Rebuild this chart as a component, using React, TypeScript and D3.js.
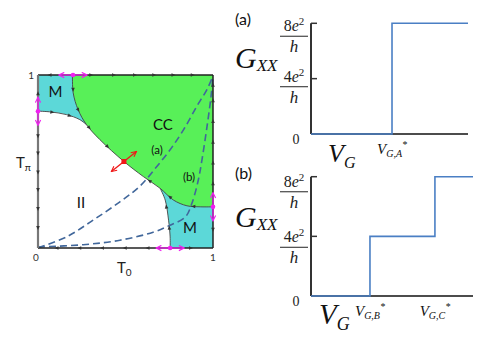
import React from "react";
import * as d3 from "d3";

type Pt = [number, number];

// phase diagram (T0, Tpi)
const greenEdge: Pt[] = [[0.197, 1], [0.201, 0.897], [0.229, 0.8], [0.277, 0.713], [0.354, 0.626], [0.491, 0.5], [0.602, 0.413], [0.698, 0.345], [0.774, 0.277], [0.851, 0.244], [0.927, 0.238], [1, 0.238]];
const cyanTopEdge: Pt[] = [[0, 0.791], [0.067, 0.787], [0.163, 0.771], [0.239, 0.742], [0.277, 0.713]];
const cyanBottomEdge: Pt[] = [[0.755, 0], [0.755, 0.064], [0.746, 0.161], [0.727, 0.277], [0.698, 0.345]];
const curveA: Pt[] = [[0, 0.002], [0.163, 0.064], [0.315, 0.161], [0.468, 0.267], [0.583, 0.358], [0.679, 0.471], [0.755, 0.568], [0.832, 0.684], [0.908, 0.82], [0.966, 0.917], [1, 0.994]];
const curveB: Pt[] = [[0, 0.006], [0.258, 0.019], [0.468, 0.045], [0.658, 0.091], [0.755, 0.132], [0.841, 0.178], [0.88, 0.26], [0.916, 0.393], [0.937, 0.51], [0.966, 0.703], [0.989, 0.878], [1, 0.994]];
const fixedPoints: Pt[] = [[0.2, 1], [0, 0.79], [1, 0.238], [0.755, 0]];
const criticalPoint: Pt = [0.491, 0.5];
const regionLabels = [
  { text: "M", at: [0.1, 0.87] as Pt },
  { text: "CC", at: [0.714, 0.68] as Pt },
  { text: "II", at: [0.246, 0.231] as Pt },
  { text: "M", at: [0.869, 0.087] as Pt },
];
const curveLabels = [
  { text: "(a)", at: [0.68, 0.543] as Pt },
  { text: "(b)", at: [0.863, 0.387] as Pt },
];

// conductance panels (units of e^2/h)
const gTicks = [0, 4, 8];
const stepA = { vg: [0, 0.516, 1], g: [0, 8, 8] };
const stepB = { vg: [0, 0.364, 0.765, 1], g: [0, 4, 8, 8] };
const critA = [{ v: 0.516, name: "G,A" }];
const critB = [{ v: 0.364, name: "G,B" }, { v: 0.765, name: "G,C" }];

const SANS = "Lato, 'Open Sans', sans-serif";
const SERIF = "'Liberation Serif', 'DejaVu Serif', serif";

const xP = d3.scaleLinear().domain([0, 1]).range([38, 213]);
const yP = d3.scaleLinear().domain([0, 1]).range([248, 75]);
const toPx = (p: Pt): Pt => [xP(p[0]), yP(p[1])];

const smooth = d3.line<Pt>().x(d => xP(d[0])).y(d => yP(d[1])).curve(d3.curveCatmullRom);
const straight = d3.line<Pt>().x(d => xP(d[0])).y(d => yP(d[1]));

function along(pts: Pt[], fr: number) {
  const px = pts.map(toPx);
  const segs: number[] = [];
  let total = 0;
  for (let i = 1; i < px.length; i++) {
    const l = Math.hypot(px[i][0] - px[i - 1][0], px[i][1] - px[i - 1][1]);
    segs.push(l);
    total += l;
  }
  let target = fr * total;
  for (let i = 0; i < segs.length; i++) {
    if (target <= segs[i] || i === segs.length - 1) {
      const t = Math.min(1, target / segs[i]);
      const a = px[i], b = px[i + 1];
      return {
        x: a[0] + (b[0] - a[0]) * t,
        y: a[1] + (b[1] - a[1]) * t,
        a: (Math.atan2(b[1] - a[1], b[0] - a[0]) * 180) / Math.PI,
      };
    }
    target -= segs[i];
  }
  return { x: px[0][0], y: px[0][1], a: 0 };
}

const Head = ({ x, y, a }: { x: number; y: number; a: number }) => (
  <path d="M-3,-1.8 L1,0 L-3,1.8Z" fill="#333" transform={`translate(${x},${y}) rotate(${a})`} />
);

function PhaseDiagram() {
  const heads: { x: number; y: number; a: number }[] = [];
  // edges: flow away from the fixed points
  [0.06, 0.31, 0.44, 0.56, 0.67, 0.78, 0.89].forEach(t => heads.push({ x: xP(t), y: yP(1), a: t < 0.2 ? 180 : 0 }));
  [0.11, 0.22, 0.33, 0.43, 0.54, 0.64, 0.9].forEach(t => heads.push({ x: xP(0), y: yP(t), a: t < 0.79 ? 90 : -90 }));
  [0.1, 0.23, 0.36, 0.49, 0.62, 0.88].forEach(t => heads.push({ x: xP(t), y: yP(0), a: t < 0.755 ? 180 : 0 }));
  [0.1, 0.38, 0.5, 0.62, 0.74, 0.86, 0.95].forEach(t => heads.push({ x: xP(1), y: yP(t), a: t < 0.238 ? 90 : -90 }));
  // separatrix: flow towards the critical point
  const upper = greenEdge.slice(0, 6);
  const lower = greenEdge.slice(5).reverse();
  [0.15, 0.35, 0.55, 0.8].forEach(f => heads.push(along(upper, f)));
  [0.2, 0.45, 0.7].forEach(f => heads.push(along(lower, f)));
  [0.3, 0.65].forEach(f => heads.push(along(cyanTopEdge, f)));
  [0.35, 0.7].forEach(f => heads.push(along(cyanBottomEdge, f)));

  const greenArea = smooth(greenEdge) + `L${xP(1)},${yP(1)}Z`;
  const cyanTL = straight([[0, 1], [0.26, 1], [0.277, 0.713]]) + smooth(cyanTopEdge.slice().reverse())!.replace("M", "L") + "Z";
  const cyanBR = smooth(cyanBottomEdge) + `L${xP(1)},${yP(0.36)}L${xP(1)},${yP(0)}Z`;
  const [cx, cy] = toPx(criticalPoint);

  return (
    <g>
      <path d={cyanTL} fill="#5cd8d8" />
      <path d={cyanBR} fill="#5cd8d8" />
      <path d={greenArea} fill="#58f058" />
      <path d={smooth(greenEdge)!} fill="none" stroke="#444" strokeWidth={0.9} />
      <path d={smooth(cyanTopEdge)!} fill="none" stroke="#444" strokeWidth={0.9} />
      <path d={smooth(cyanBottomEdge)!} fill="none" stroke="#444" strokeWidth={0.9} />
      <path d={smooth(curveA)!} fill="none" stroke="#41679b" strokeWidth={1.6} strokeDasharray="7,4" />
      <path d={smooth(curveB)!} fill="none" stroke="#41679b" strokeWidth={1.6} strokeDasharray="7,4" />
      <line x1={xP(0)} x2={xP(1)} y1={yP(1)} y2={yP(1)} stroke="#222" strokeWidth={1.5} />
      <line x1={xP(1)} x2={xP(1)} y1={yP(1)} y2={yP(0)} stroke="#222" strokeWidth={1.5} />
      <line x1={xP(0)} x2={xP(1)} y1={yP(0)} y2={yP(0)} stroke="#222" strokeWidth={1.5} />
      <line x1={xP(0)} x2={xP(0)} y1={yP(1)} y2={yP(0)} stroke="#777" strokeWidth={2.2} />
      {heads.map((h, i) => <Head key={i} {...h} />)}
      {fixedPoints.map((p, i) => {
        const [x, y] = toPx(p);
        const horiz = p[1] === 1 || p[1] === 0;
        const d = 14;
        return (
          <g key={i}>
            <line x1={horiz ? x - d : x} x2={horiz ? x + d : x} y1={horiz ? y : y - d} y2={horiz ? y : y + d}
              stroke="#f020f0" strokeWidth={1.3} markerStart="url(#mag)" markerEnd="url(#mag)" />
            <circle cx={x} cy={y} r={2.3} fill="#f020f0" />
          </g>
        );
      })}
      <line x1={cx - 12.5} y1={cy + 10} x2={cx + 12.5} y2={cy - 10} stroke="#f01818" strokeWidth={1.3}
        markerStart="url(#red)" markerEnd="url(#red)" />
      <rect x={cx - 2.5} y={cy - 2.5} width={5} height={5} fill="#f01818" />
      {regionLabels.map((l, i) => (
        <text key={i} x={xP(l.at[0])} y={yP(l.at[1])} fontFamily={SANS} fontSize={15} textAnchor="middle" fill="#111">{l.text}</text>
      ))}
      {curveLabels.map((l, i) => (
        <text key={i} x={xP(l.at[0])} y={yP(l.at[1])} fontFamily={SANS} fontSize={11.5} textAnchor="middle" fill="#111">{l.text}</text>
      ))}
      <text x={xP(0) - 4} y={yP(1) + 4} fontFamily={SANS} fontSize={10} textAnchor="end" fill="#333">1</text>
      <text x={xP(0) - 2} y={yP(0) + 13} fontFamily={SANS} fontSize={10} textAnchor="middle" fill="#333">0</text>
      <text x={xP(1)} y={yP(0) + 13} fontFamily={SANS} fontSize={10} textAnchor="middle" fill="#333">1</text>
      <text x={117} y={273} fontFamily={SANS} fontSize={15} fill="#222">T<tspan fontSize={10} dy={3}>0</tspan></text>
      <text x={16} y={168} fontFamily={SANS} fontSize={15} fill="#222">T<tspan fontSize={10} dy={3}>π</tspan></text>
    </g>
  );
}

function Fraction({ x, y, num }: { x: number; y: number; num: string }) {
  return (
    <g fontFamily={SERIF} fill="#222">
      <text x={x} y={y - 5} fontSize={16} textAnchor="middle">{num}<tspan fontStyle="italic">e</tspan><tspan fontSize={11} dy={-6}>2</tspan></text>
      <line x1={x - 14} x2={x + 14} y1={y} y2={y} stroke="#555" strokeWidth={1.3} />
      <text x={x} y={y + 16} fontSize={17} fontStyle="italic" textAnchor="middle">h</text>
    </g>
  );
}

function StepPanel({ label, top, bottom, right, step, crit, vgSize, vgX, vgY, gY, fracOff }: any) {
  const x = d3.scaleLinear().domain([0, 1]).range([311, right]);
  const y = d3.scaleLinear().domain([0, 8]).range([bottom, top]);
  const pts: Pt[] = step.vg.map((v: number, i: number) => [v, step.g[i]]);
  const line = d3.line<Pt>().x(d => x(d[0])).y(d => y(d[1])).curve(d3.curveStepAfter);
  return (
    <g>
      <text x={235} y={top + 2} fontFamily={SANS} fontSize={16} fill="#111">{label}</text>
      <line x1={x(0)} x2={x(0)} y1={y(8)} y2={y(0)} stroke="#333" strokeWidth={2} />
      <line x1={x(0)} x2={x(1)} y1={y(0)} y2={y(0)} stroke="#111" strokeWidth={1.6} />
      {gTicks.filter(t => t > 0).map(t => (
        <line key={t} x1={x(0)} x2={x(0) + 6} y1={y(t)} y2={y(t)} stroke="#333" strokeWidth={1.5} />
      ))}
      <path d={line(pts)!} fill="none" stroke="#4a7fc4" strokeWidth={1.6} />
      {gTicks.map(t =>
        t === 0 ? (
          <text key={t} x={296} y={y(0) + 10} fontFamily={SERIF} fontSize={14} textAnchor="middle" fill="#222">0</text>
        ) : (
          <Fraction key={t} x={294} y={y(t) + fracOff[t]} num={String(t)} />
        )
      )}
      <text x={235} y={gY} fontFamily={SERIF} fontStyle="italic" fontSize={30} fill="#111">G<tspan fontSize={17} dy={3}>XX</tspan></text>
      <text x={vgX} y={vgY} fontFamily={SERIF} fontStyle="italic" fontSize={vgSize} fill="#111">V<tspan fontSize={vgSize * 0.62} dy={vgSize * 0.22}>G</tspan></text>
      {crit.map((c: any, i: number) => (
        <text key={i} x={x(c.v)} y={y(0) + 20} fontFamily={SERIF} fontStyle="italic" fontSize={15} textAnchor="middle" fill="#111">
          V<tspan fontSize={10} dy={3}>{c.name}</tspan><tspan fontSize={10} dy={-9}>*</tspan>
        </text>
      ))}
    </g>
  );
}

export default function App() {
  return (
    <svg width={485} height={339} style={{ position: "absolute", left: 0, top: 0, background: "#fff" }}>
      <defs>
        <marker id="mag" viewBox="0 0 8 8" refX={7} refY={4} markerWidth={7} markerHeight={7} orient="auto-start-reverse" markerUnits="userSpaceOnUse">
          <path d="M1,1 L7,4 L1,7" fill="none" stroke="#f020f0" strokeWidth={1.3} />
        </marker>
        <marker id="red" viewBox="0 0 8 8" refX={7} refY={4} markerWidth={7} markerHeight={7} orient="auto-start-reverse" markerUnits="userSpaceOnUse">
          <path d="M1,1 L7,4 L1,7" fill="none" stroke="#f01818" strokeWidth={1.3} />
        </marker>
      </defs>
      <PhaseDiagram />
      <StepPanel label="(a)" top={23.3} bottom={134} right={468} step={stepA} crit={critA}
        vgSize={26} vgX={328} vgY={162} gY={68} fracOff={{ 4: 8, 8: 13 }} />
      <StepPanel label="(b)" top={176.7} bottom={296} right={473} step={stepB} crit={critB}
        vgSize={29} vgX={319} vgY={324} gY={227} fracOff={{ 4: 11, 8: 15 }} />
    </svg>
  );
}
